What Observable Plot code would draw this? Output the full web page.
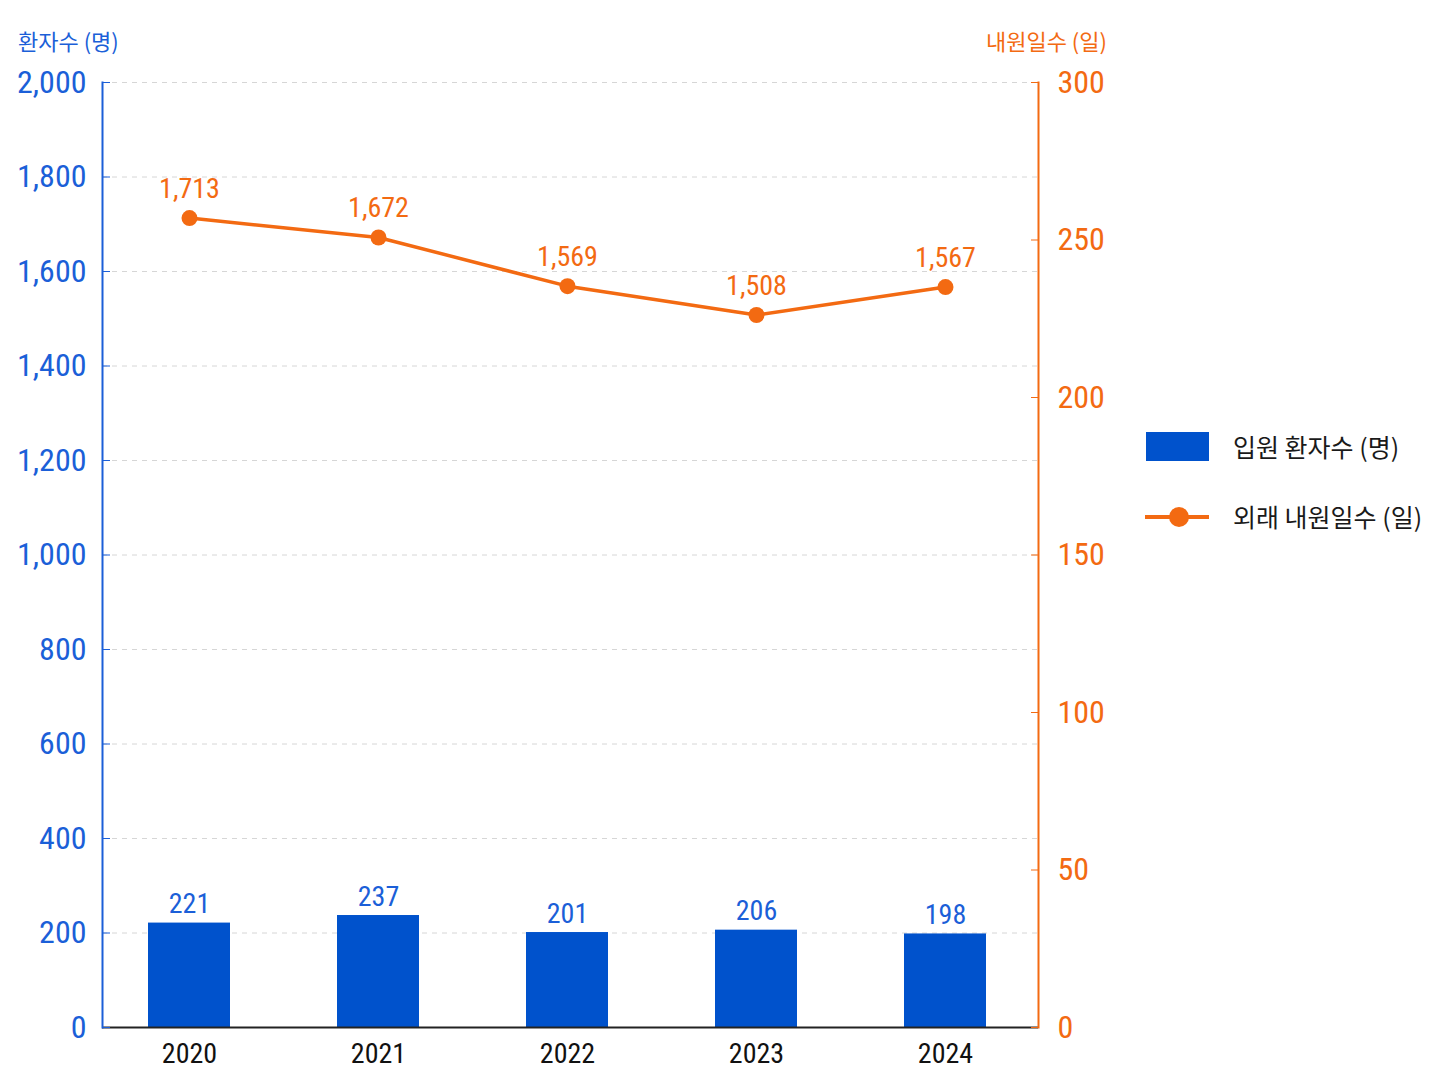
<!DOCTYPE html>
<html><head><meta charset="utf-8">
<script src="https://cdn.jsdelivr.net/npm/d3@7"></script>
<script src="https://cdn.jsdelivr.net/npm/@observablehq/plot@0.6"></script>
<style>
body{margin:0;background:#fff;}
#wrap{position:relative;width:1448px;height:1086px;overflow:hidden;background:#fff;}
.kr{font-family:"Noto Sans CJK KR","Noto Sans",sans-serif;position:absolute;white-space:nowrap;line-height:1;}
</style></head><body>
<div id="wrap">
  <div id="chart" style="position:absolute;left:0;top:0"></div>
  <div class="kr" id="titleL" style="left:18px;top:29px;font-size:22px;"></div>
  <div class="kr" id="titleR" style="right:341px;top:29px;font-size:22px;text-align:right;"></div>
  <div id="legend"></div>
</div>
<script>
// ---- data ----
const years = ["2020", "2021", "2022", "2023", "2024"];
const patients = [221, 237, 201, 206, 198];          // 입원 환자수 (명)
const visits = [1713, 1672, 1569, 1508, 1567];       // 외래 내원일수 (일)
const leftTicks = [0, 200, 400, 600, 800, 1000, 1200, 1400, 1600, 1800, 2000];
const rightTicks = [0, 50, 100, 150, 200, 250, 300];
const leftMax = 2000;
const rightMax = 300;
const seriesNames = ["입원 환자수 (명)", "외래 내원일수 (일)"];
const axisTitles = ["환자수 (명)", "내원일수 (일)"];

// ---- styles ----
const blue = "#0052cc", blueText = "#1b5fd8", orange = "#f36a12";
const numFont = '"Liberation Sans Narrow","Roboto Condensed","DejaVu Sans Condensed",Roboto,sans-serif';

const data = years.map((y, i) => ({year: y, patients: patients[i], visits: visits[i]}));
const toLeft = v => v * leftMax / rightMax;
const fmt = d3.format(",");

const chart = Plot.plot({
  width: 1448, height: 1086,
  marginLeft: 102, marginRight: 410, marginTop: 82, marginBottom: 59,
  style: {background: "transparent", fontFamily: numFont},
  x: {type: "band", domain: years, paddingInner: 0.566, paddingOuter: 0.259, align: 0.47, label: null},
  y: {domain: [0, leftMax], label: null},
  marks: [
    Plot.gridY(leftTicks.filter(d => d > 0), {stroke: "#d6d6d6", strokeOpacity: 1, strokeDasharray: "5,5"}),
    Plot.barY(data, {x: "year", y: "patients", fill: blue}),
    Plot.ruleY([0], {stroke: "#222", strokeWidth: 2}),
    Plot.frame({anchor: "left", stroke: blueText, strokeWidth: 2}),
    Plot.frame({anchor: "right", stroke: orange, strokeWidth: 2}),
    Plot.axisY(leftTicks, {anchor: "left", tickSize: -8, tickPadding: 24, color: blueText, fontSize: 32, tickFormat: fmt}),
    Plot.axisY(rightTicks.map(toLeft), {anchor: "right", tickSize: -8, tickPadding: 27, color: orange, fontSize: 32,
      tickFormat: d => fmt(Math.round(d * rightMax / leftMax))}),
    Plot.axisX({tickSize: 0, tickPadding: 16, fontSize: 28, color: "#111"}),
    Plot.text(data, {x: "year", y: "patients", text: d => fmt(d.patients), dy: -10, lineAnchor: "bottom", fill: blueText, fontSize: 28}),
    Plot.line(data, {x: "year", y: "visits", stroke: orange, strokeWidth: 3.5}),
    Plot.dot(data, {x: "year", y: "visits", r: 8, fill: orange}),
    Plot.text(data, {x: "year", y: "visits", text: d => fmt(d.visits), dy: -20, lineAnchor: "bottom", fill: orange, fontSize: 28})
  ]
});
document.getElementById("chart").appendChild(chart);

const tl = document.getElementById("titleL");
tl.textContent = axisTitles[0]; tl.style.color = blueText;
const tr = document.getElementById("titleR");
tr.textContent = axisTitles[1]; tr.style.color = orange;

// legend
const lg = document.getElementById("legend");
lg.innerHTML = `
  <div style="position:absolute;left:1146px;top:432px;width:63px;height:29px;background:${blue}"></div>
  <div class="kr" style="left:1233px;top:434px;font-size:25px;color:#1a1a1a">${seriesNames[0]}</div>
  <svg style="position:absolute;left:1140px;top:500px" width="80" height="34">
    <line x1="5" y1="17" x2="69" y2="17" stroke="${orange}" stroke-width="4"/>
    <circle cx="39" cy="17" r="10" fill="${orange}"/>
  </svg>
  <div class="kr" style="left:1233px;top:504px;font-size:25px;color:#1a1a1a">${seriesNames[1]}</div>
`;
</script>
</body></html>
